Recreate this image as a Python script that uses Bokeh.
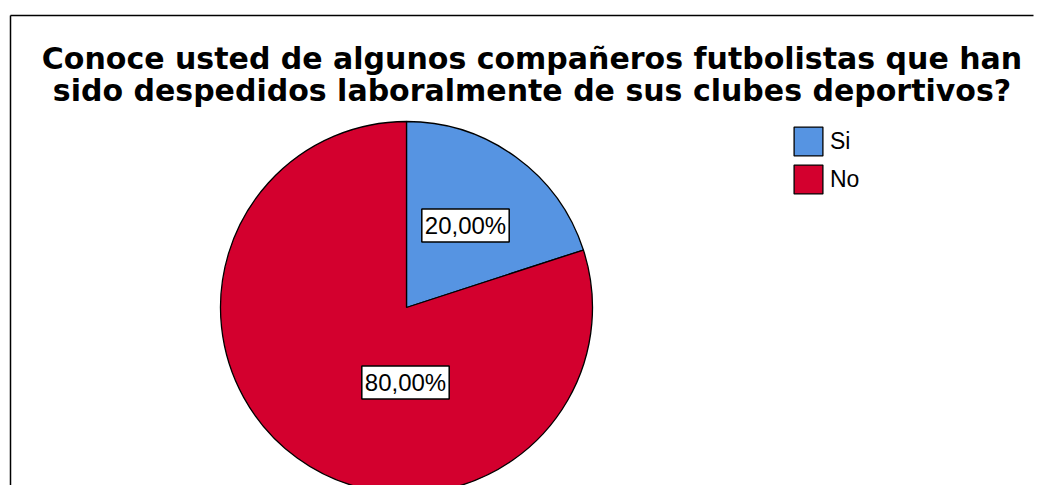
from bokeh.plotting import figure
from bokeh.models import Range1d, Label, Legend, LegendItem, ColumnDataSource
from bokeh.embed import file_html
from bokeh.resources import INLINE
import math

categories = ["Si", "No"]
percentages = [20.0, 80.0]
colors = ["#5694E2", "#D3002E"]
title_lines = ["Conoce usted de algunos compañeros futbolistas que han",
               "sido despedidos laboralmente de sus clubes deportivos?"]

W, H = 1034, 485
p = figure(width=W, height=H, x_range=Range1d(0, W), y_range=Range1d(0, H),
           output_backend="svg", toolbar_location=None, min_border=0,
           x_axis_location=None, y_axis_location=None)
p.grid.visible = False
p.outline_line_color = None
p.background_fill_color = "white"
p.border_fill_color = "white"

# pie geometry (layout)
cx, cy, R = 406, 178, 186
total = sum(percentages)
starts, ends = [], []
cum = 0.0
for v in percentages:
    a_end = math.radians(90 - cum / total * 360)
    cum += v
    a_start = math.radians(90 - cum / total * 360)
    starts.append(a_start)
    ends.append(a_end)

src = ColumnDataSource(dict(cat=categories, val=percentages, start=starts, end=ends,
                            color=colors, x=[cx] * len(categories), y=[cy] * len(categories)))
wr = p.wedge(x="x", y="y", radius=R, radius_units="screen", start_angle="start", end_angle="end",
             fill_color="color", line_color="black", line_width=1.3, source=src)

# value labels
label_pos = [(465, 260), (405, 103)]
for v, (lx, ly) in zip(percentages, label_pos):
    txt = f"{v:.2f}%".replace(".", ",")
    p.add_layout(Label(x=lx, y=ly, text=txt, text_align="center", text_baseline="middle",
                       text_font="Liberation Sans", text_font_size="24px", text_color="black",
                       background_fill_color="white", border_line_color="black",
                       border_line_width=1.5, padding=3))

# title
title_y = [427, 395]
for line, ty in zip(title_lines, title_y):
    p.add_layout(Label(x=531.5, y=ty, text=line, text_align="center", text_baseline="alphabetic",
                       text_font="DejaVu Sans", text_font_style="bold",
                       text_font_size="30px", text_color="black"))

# legend
items = [LegendItem(label=c, renderers=[wr], index=i) for i, c in enumerate(categories)]
legend = Legend(items=items, location=(790, 288), glyph_width=36, glyph_height=36,
                label_height=36, spacing=2, padding=0, margin=0, label_standoff=4,
                label_text_font="Liberation Sans", label_text_font_size="23px",
                label_text_color="black",
                border_line_color=None, background_fill_alpha=0)
p.add_layout(legend)

# frame lines (left and top)
p.line([10, 10], [0, 470], line_color="black", line_width=1.5)
p.line([10, 1033], [470, 470], line_color="black", line_width=1.5)

open("out.html", "w").write(file_html(p, INLINE))
